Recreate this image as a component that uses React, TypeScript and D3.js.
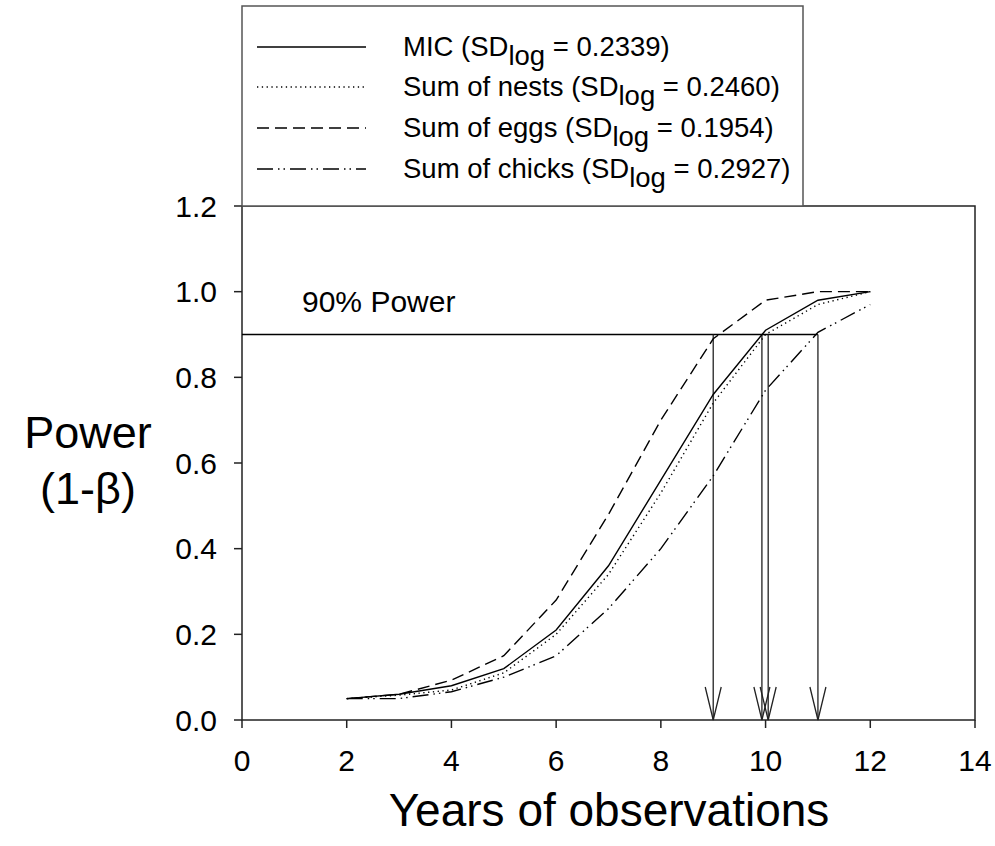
import React from "react";
import * as d3 from "d3";

const years = [2, 3, 4, 5, 6, 7, 8, 9, 10, 11, 12];
const micValues = [0.05, 0.06, 0.08, 0.12, 0.21, 0.36, 0.56, 0.76, 0.91, 0.98, 1.0];
const nestsValues = [0.05, 0.058, 0.07, 0.11, 0.2, 0.34, 0.53, 0.74, 0.9, 0.97, 1.0];
const eggsValues = [0.05, 0.06, 0.093, 0.15, 0.28, 0.48, 0.7, 0.89, 0.98, 1.0, 1.0];
const chicksValues = [0.05, 0.05, 0.066, 0.1, 0.15, 0.26, 0.4, 0.57, 0.77, 0.905, 0.97];

const seriesNames = ["MIC", "Sum of nests", "Sum of eggs", "Sum of chicks"];
const sdLog = ["0.2339", "0.2460", "0.1954", "0.2927"];
const dashes = ["none", "1.3,3.5", "12,6", "16,5,1.5,4,1.5,5"];

const xTicks = [0, 2, 4, 6, 8, 10, 12, 14];
const yTicks = [0, 0.2, 0.4, 0.6, 0.8, 1.0, 1.2];
const powerLevel = 0.9;
const arrowYears = [9, 9.93, 10.05, 11];

const W = 995;
const H = 846;

export default function App() {
  const x = d3.scaleLinear().domain([0, 14]).range([242, 975]);
  const y = d3.scaleLinear().domain([0, 1.2]).range([720, 206]);
  const allSeries = [micValues, nestsValues, eggsValues, chicksValues];
  const line = d3
    .line<number>()
    .x((_, i) => x(years[i]))
    .y((d) => y(d));

  const font = "Arial, 'Liberation Sans', sans-serif";
  const legendRowY = [47, 87, 128, 169];

  return (
    <svg width={W} height={H} style={{ position: "absolute", left: 0, top: 0, background: "#fff" }} fontFamily={font}>
      <rect x={0} y={0} width={W} height={H} fill="#fff" />
      {/* plot frame */}
      <rect x={x(0)} y={y(1.2)} width={x(14) - x(0)} height={y(0) - y(1.2)} fill="none" stroke="#222" strokeWidth={1.5} />
      {/* y ticks */}
      {yTicks.map((t) => (
        <g key={"y" + t}>
          <line x1={x(0) - 8} x2={x(0)} y1={y(t)} y2={y(t)} stroke="#222" strokeWidth={1.5} />
          <text x={x(0) - 25} y={y(t)} dy="0.35em" textAnchor="end" fontSize={30} fill="#000">
            {d3.format(".1f")(t)}
          </text>
        </g>
      ))}
      {/* x ticks */}
      {xTicks.map((t) => (
        <g key={"x" + t}>
          <line x1={x(t)} x2={x(t)} y1={y(0)} y2={y(0) + 8} stroke="#222" strokeWidth={1.5} />
          <text x={x(t)} y={y(0) + 51} textAnchor="middle" fontSize={30} fill="#000">
            {t}
          </text>
        </g>
      ))}
      {/* axis titles */}
      <text x={609} y={826} textAnchor="middle" fontSize={46} fill="#000">
        Years of observations
      </text>
      <text x={88} y={448} textAnchor="middle" fontSize={45} fill="#000">
        Power
      </text>
      <text x={88} y={504} textAnchor="middle" fontSize={45} fill="#000">
        (1-β)
      </text>
      {/* 90% power line */}
      <line x1={x(0)} x2={x(arrowYears[arrowYears.length - 1])} y1={y(powerLevel)} y2={y(powerLevel)} stroke="#000" strokeWidth={1.5} />
      <text x={302} y={y(powerLevel) - 23} fontSize={30} fill="#000">
        90% Power
      </text>
      {/* arrows */}
      {arrowYears.map((a, i) => (
        <g key={"a" + i} stroke="#222" strokeWidth={1.3} fill="none">
          <line x1={x(a)} x2={x(a)} y1={y(powerLevel)} y2={y(0)} />
          <polyline points={`${x(a) - 8},${y(0) - 33} ${x(a)},${y(0)} ${x(a) + 8},${y(0) - 33}`} />
        </g>
      ))}
      {/* series */}
      {allSeries.map((s, i) => (
        <path key={"s" + i} d={line(s) || ""} fill="none" stroke="#000" strokeWidth={1.4} strokeDasharray={dashes[i]} />
      ))}
      {/* legend */}
      <rect x={242} y={6} width={561} height={200} fill="#fff" stroke="#555" strokeWidth={1.5} />
      {seriesNames.map((n, i) => (
        <g key={"l" + i}>
          <line x1={257} x2={366} y1={legendRowY[i]} y2={legendRowY[i]} stroke="#000" strokeWidth={1.4} strokeDasharray={dashes[i]} />
          <text x={403} y={legendRowY[i] + 9} fontSize={27.5} fill="#000">
            {n} (SD
            <tspan dy={9}>log</tspan>
            <tspan dy={-9}> = {sdLog[i]})</tspan>
          </text>
        </g>
      ))}
    </svg>
  );
}
